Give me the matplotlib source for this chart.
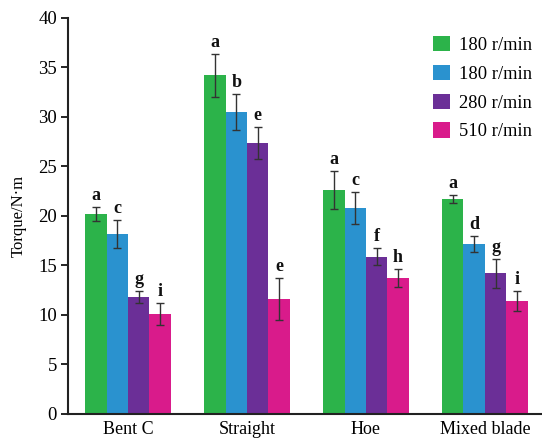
import matplotlib
matplotlib.use("Agg")
import matplotlib.pyplot as plt
import numpy as np

plt.rcParams['font.family'] = ['Liberation Serif', 'DejaVu Serif']

categories = ["Bent C", "Straight", "Hoe", "Mixed blade"]
series_names = ["180 r/min", "180 r/min", "280 r/min", "510 r/min"]
values = [
    [20.2, 34.2, 22.6, 21.7],
    [18.2, 30.5, 20.8, 17.2],
    [11.8, 27.4, 15.9, 14.2],
    [10.1, 11.6, 13.7, 11.4],
]
errors = [
    [0.7, 2.2, 1.9, 0.4],
    [1.4, 1.8, 1.6, 0.8],
    [0.6, 1.6, 0.9, 1.5],
    [1.1, 2.1, 0.9, 1.0],
]
letters = [
    ["a", "a", "a", "a"],
    ["c", "b", "c", "d"],
    ["g", "e", "f", "g"],
    ["i", "e", "h", "i"],
]
colors = ["#2cb34a", "#2a92cf", "#6b2f97", "#d91b8b"]
yticks = [0, 5, 10, 15, 20, 25, 30, 35, 40]

fig = plt.figure(figsize=(5.42, 4.44), dpi=100)
ax = fig.add_axes([0.1255, 0.0676, 0.8745, 0.892])

x = np.arange(len(categories))
width = 0.18
for i in range(4):
    pos = x + (i - 1.5) * width
    ax.bar(pos, values[i], width=width, color=colors[i], label=series_names[i],
           yerr=errors[i], error_kw=dict(ecolor="#333333", elinewidth=1.0, capsize=3, capthick=1.0))
    for j in range(len(categories)):
        ax.text(pos[j], values[i][j] + errors[i][j] + 0.3, letters[i][j],
                ha="center", va="bottom", fontsize=13, fontweight="bold", color="#111111")

ax.set_xlim(-0.505, 3.48)
ax.set_ylim(0, 40)
ax.set_yticks(yticks)
ax.set_xticks(x)
ax.set_xticklabels(categories, fontsize=13)
ax.tick_params(axis="x", length=0, pad=5)
ax.tick_params(axis="y", direction="out", length=5, width=1.2, labelsize=13.5, pad=3)
ax.set_ylabel("Torque/N·m", fontsize=12, labelpad=8)
for s in ["top", "right"]:
    ax.spines[s].set_visible(False)
for s in ["left", "bottom"]:
    ax.spines[s].set_linewidth(1.5)
    ax.spines[s].set_color("#222222")

ax.legend(loc="upper right", bbox_to_anchor=(1.014, 0.996), frameon=False, fontsize=13.3,
          handlelength=0.9, handleheight=0.9, handletextpad=0.5, labelspacing=0.58)

fig.savefig("out.png", dpi=100)
